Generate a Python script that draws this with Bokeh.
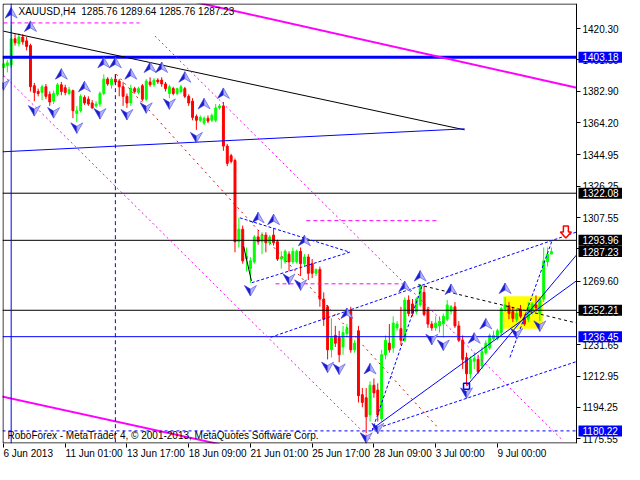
from bokeh.plotting import figure
from bokeh.models import (Range1d, FixedTicker, Label, Span, ColumnDataSource, PrintfTickFormatter,
                          LinearAxis, BoxAnnotation)
from bokeh.embed import file_html
from bokeh.resources import INLINE

# ---------------- data ----------------
open_ = [1397.0, 1398.2, 1398.7, 1414.2, 1411.3, 1415.3, 1413.0, 1410.2, 1386.2, 1382.8,
         1382.2, 1385.6, 1381.1, 1377.0, 1381.1, 1386.8, 1385.0, 1381.6, 1383.3, 1369.6,
         1371.3, 1379.3, 1378.2, 1375.9, 1374.2, 1375.3, 1381.6, 1390.2, 1386.8, 1390.2,
         1389.0, 1385.6, 1379.9, 1375.9, 1384.5, 1382.2, 1386.2, 1378.2, 1388.5, 1386.8,
         1389.6, 1389.6, 1387.3, 1381.6, 1384.5, 1381.6, 1382.8, 1384.5, 1379.9, 1377.0,
         1367.9, 1365.6, 1363.9, 1366.8, 1365.6, 1365.6, 1373.0, 1374.2, 1350.2, 1344.5,
         1341.6, 1293.1, 1300.6, 1282.8, 1277.1, 1281.1, 1296.0, 1293.1, 1297.1, 1292.5,
         1297.1, 1293.1, 1282.8, 1281.1, 1285.7, 1281.1, 1281.1, 1287.4, 1280.0, 1284.0,
         1280.0, 1274.3, 1276.6, 1258.9, 1254.3, 1228.6, 1237.2, 1236.0, 1230.3, 1238.3,
         1251.5, 1228.6, 1240.0, 1201.8, 1200.0, 1189.8, 1207.5, 1204.6, 1187.5, 1225.7,
         1232.6, 1229.7, 1241.7, 1241.2, 1234.3, 1258.3, 1256.0, 1251.4, 1255.4, 1262.9,
         1252.6, 1244.0, 1241.7, 1242.9, 1244.0, 1246.9, 1251.4, 1254.3, 1242.9, 1234.3,
         1224.0, 1214.3, 1221.8, 1222.9, 1218.9, 1226.9, 1229.7, 1235.4, 1235.4, 1238.9,
         1253.2, 1254.9, 1251.4, 1246.9, 1252.6, 1247.4, 1246.9, 1251.4, 1255.4, 1250.3,
         1258.9, 1281.1, 1285.76]
high = [1402.7, 1401.6, 1422.7, 1417.0, 1417.6, 1417.0, 1415.3, 1411.3, 1387.9, 1384.5,
        1386.8, 1387.3, 1382.8, 1383.3, 1387.9, 1388.5, 1386.8, 1385.6, 1383.9, 1374.2,
        1381.1, 1380.5, 1379.9, 1377.6, 1377.0, 1382.8, 1393.0, 1391.3, 1391.3, 1393.0,
        1390.2, 1388.5, 1381.6, 1386.8, 1385.6, 1385.6, 1387.3, 1390.2, 1391.3, 1390.7,
        1390.7, 1391.3, 1388.5, 1386.8, 1385.6, 1385.0, 1386.8, 1385.6, 1381.1, 1378.8,
        1369.1, 1368.5, 1367.9, 1368.5, 1369.6, 1375.3, 1375.3, 1376.5, 1351.4, 1345.6,
        1342.8, 1307.4, 1302.8, 1289.7, 1283.9, 1297.1, 1300.0, 1298.8, 1298.8, 1297.1,
        1301.1, 1294.3, 1287.4, 1288.5, 1287.4, 1289.7, 1288.5, 1289.7, 1285.7, 1285.7,
        1282.8, 1277.1, 1278.3, 1262.9, 1255.4, 1247.4, 1242.9, 1240.0, 1242.9, 1244.0,
        1254.3, 1234.3, 1242.9, 1205.8, 1205.8, 1209.8, 1211.5, 1208.6, 1228.6, 1237.2,
        1244.0, 1248.6, 1245.7, 1254.3, 1260.0, 1261.1, 1258.9, 1260.0, 1267.4, 1266.9,
        1254.3, 1245.7, 1248.6, 1248.6, 1250.3, 1258.3, 1255.4, 1257.1, 1245.7, 1237.2,
        1226.9, 1224.6, 1226.9, 1225.7, 1230.3, 1234.3, 1238.3, 1240.0, 1241.2, 1254.3,
        1260.0, 1257.1, 1254.3, 1253.2, 1255.4, 1249.7, 1257.1, 1257.1, 1261.1, 1260.0,
        1289.7, 1289.7, 1289.64]
low = [1391.3, 1394.2, 1397.0, 1410.2, 1409.6, 1410.7, 1407.3, 1382.8, 1377.0, 1379.9,
       1377.6, 1378.2, 1374.2, 1375.3, 1379.9, 1380.5, 1380.5, 1380.5, 1366.8, 1364.5,
       1370.2, 1374.8, 1374.2, 1372.5, 1373.0, 1373.6, 1380.5, 1386.2, 1384.5, 1386.8,
       1379.9, 1374.2, 1373.0, 1374.2, 1381.6, 1381.1, 1377.0, 1377.0, 1385.6, 1385.6,
       1387.3, 1385.6, 1382.8, 1378.8, 1380.5, 1380.5, 1381.6, 1378.8, 1374.2, 1365.6,
       1359.9, 1364.5, 1362.8, 1363.9, 1364.5, 1364.5, 1371.9, 1347.4, 1338.2, 1339.9,
       1286.8, 1289.7, 1280.0, 1275.4, 1268.6, 1280.0, 1291.4, 1285.7, 1286.8, 1290.8,
       1290.8, 1281.7, 1277.1, 1280.0, 1275.4, 1280.0, 1280.0, 1272.6, 1278.3, 1270.3,
       1271.4, 1272.6, 1254.3, 1242.9, 1222.9, 1224.0, 1230.3, 1221.2, 1225.7, 1236.0,
       1226.9, 1226.9, 1197.2, 1194.3, 1178.9, 1185.8, 1200.0, 1185.8, 1185.8, 1222.9,
       1226.9, 1226.9, 1240.0, 1231.4, 1233.2, 1248.6, 1248.6, 1249.7, 1254.3, 1248.6,
       1241.7, 1240.0, 1240.0, 1238.9, 1236.0, 1245.7, 1249.7, 1241.7, 1233.2, 1217.2,
       1207.5, 1211.5, 1217.2, 1214.3, 1217.2, 1225.7, 1228.6, 1234.3, 1234.3, 1237.2,
       1251.4, 1246.9, 1245.1, 1245.1, 1247.4, 1242.9, 1245.1, 1249.7, 1251.4, 1245.7,
       1257.1, 1278.3, 1285.76]
close = [1399.3, 1399.9, 1414.2, 1411.9, 1415.3, 1412.4, 1409.6, 1385.6, 1382.2, 1381.6,
         1385.6, 1379.9, 1376.5, 1381.6, 1386.8, 1382.8, 1382.2, 1383.9, 1371.3, 1371.3,
         1379.9, 1375.9, 1375.3, 1373.0, 1375.3, 1381.6, 1390.2, 1387.3, 1390.2, 1388.5,
         1385.6, 1379.9, 1375.9, 1384.5, 1382.8, 1384.5, 1378.2, 1389.0, 1386.8, 1389.6,
         1388.5, 1387.3, 1384.5, 1385.6, 1381.6, 1384.5, 1385.6, 1379.9, 1375.9, 1367.3,
         1365.6, 1367.3, 1366.8, 1365.1, 1368.5, 1373.0, 1374.2, 1350.2, 1339.9, 1341.1,
         1293.1, 1300.6, 1281.7, 1284.5, 1281.7, 1296.0, 1293.1, 1297.1, 1292.5, 1296.0,
         1292.5, 1282.8, 1284.0, 1287.4, 1281.1, 1287.4, 1287.4, 1280.0, 1284.0, 1274.3,
         1274.3, 1276.6, 1258.9, 1246.9, 1228.6, 1236.0, 1232.6, 1225.7, 1238.9, 1241.2,
         1228.6, 1232.6, 1201.2, 1197.2, 1188.6, 1207.5, 1202.9, 1189.8, 1225.7, 1234.3,
         1228.6, 1244.6, 1244.0, 1234.3, 1258.3, 1250.3, 1250.3, 1258.9, 1266.9, 1249.7,
         1244.0, 1241.7, 1244.6, 1245.7, 1248.6, 1255.4, 1254.3, 1242.9, 1234.3, 1222.9,
         1214.3, 1222.9, 1223.4, 1215.5, 1227.5, 1232.6, 1237.2, 1237.2, 1240.0, 1253.2,
         1255.4, 1250.3, 1247.4, 1250.3, 1248.6, 1244.0, 1254.3, 1256.0, 1253.7, 1258.9,
         1281.7, 1285.7, 1287.23]

x_ticks = [0, 16, 32, 48, 64, 80, 96, 112, 128]
x_tick_labels = ["6 Jun 2013", "11 Jun 01:00", "13 Jun 17:00", "18 Jun 09:00", "21 Jun 01:00",
                 "25 Jun 17:00", "28 Jun 09:00", "3 Jul 00:00", "9 Jul 00:00"]
y_ticks = [1420.30, 1401.60, 1382.90, 1364.20, 1344.95, 1326.25, 1307.55, 1288.85,
           1269.60, 1250.90, 1231.65, 1212.95, 1194.25, 1175.55]

level_thick_blue = 1403.18
levels_black = [1322.08, 1293.96, 1252.21]
level_blue = 1236.45
level_blue_dashed = 1180.22
price_tags = [1403.18, 1322.08, 1293.96, 1287.23, 1252.21, 1236.45, 1180.22]
price_tag_colors = ["#0000ff", "black", "black", "black", "black", "#0000ff", "#0000ff"]

# trend objects: (bar index list, price list)
magenta_top = ([48, 150], [1437.0, 1384.3])
magenta_bottom = ([-1, 56], [1201.1, 1172.3])
black_trend = ([0, 119.5], [1418.8, 1359.9])
blue_trend = ([-0.25, 119.5], [1346.8, 1360.5])
magenta_dot_a = ([0, 95.5], [1392.5, 1174.4])
magenta_dot_b = ([39.25, 145], [1415.9, 1174.4])
red_dot = ([29.25, 112.25], [1393.1, 1183.0])
magenta_dash_1 = ([0, 35.25], [1423.7, 1423.7])
magenta_dash_2 = ([78.5, 112.25], [1305.7, 1305.7])
magenta_dash_3 = ([70.5, 103.5], [1268.0, 1268.0])
triangle = ([61.25, 89.75, 64.25], [1307.4, 1286.9, 1268.6])
zigzag_black = ([62.25, 64.25], [1290.3, 1269.8])
blue_dash_long1 = ([69.25, 148.5], [1236.1, 1298.9])
blue_dash_long2 = ([95.9, 148.5], [1181.1, 1221.6])
blue_solid_1 = ([95.5, 148.5], [1181.3, 1269.8])
blue_solid_2 = ([120, 148.5], [1206.9, 1285.2])
blue_dash_d1 = ([95.5, 108.5], [1180.1, 1266.9])
blue_dash_d2 = ([131.25, 142.25], [1224.1, 1294.3])
black_dash = ([107.5, 148.5], [1267.5, 1244.6])
vline_blue = 2
vline_dash = ([29, 29], [1393.1, 1170.0])
square_mark = ([120], [1206.9])
yellow_box = (129.5, 139.75, 1260.6, 1241.2)
sell_arrow = (145.75, 1298.9)

up_idx = [2, 7, 15, 21, 26, 29, 33, 38, 41, 47, 52, 57, 66, 70, 78, 89, 95, 104, 108, 116, 122, 125, 130]
up_price = [1429.6, 1421.6, 1393.1, 1385.6, 1399.9, 1399.9, 1393.1, 1397.1, 1397.1, 1391.3, 1375.4,
            1381.6, 1307.4, 1306.3, 1293.7, 1250.3, 1217.2, 1266.3, 1272.6, 1264.6, 1235.5, 1244.0, 1265.2]
dn_idx = [0, 8, 13, 19, 25, 32, 37, 43, 50, 64, 74, 77, 84, 87, 94, 97, 111, 114, 120, 133, 139]
dn_price = [1386.8, 1371.4, 1370.2, 1361.1, 1369.6, 1369.1, 1373.1, 1375.4, 1355.4, 1264.0, 1270.9,
            1267.4, 1218.3, 1217.2, 1176.1, 1181.8, 1234.9, 1231.5, 1202.9, 1238.3, 1242.9]

title_text = "XAUUSD,H4\u00a0\u00a01285.76 1289.64 1285.76 1287.23"
footer_text = "RoboForex - MetaTrader 4, \u00a9 2001-2013, MetaQuotes Software Corp."

# ---------------- figure ----------------
X0, X1 = -0.25, 148.5          # chart area (bars)
Y0, Y1 = 1172.7, 1435.3
FW, FH, AW = 574, 440, 46       # chart width, height, price-scale strip width (px)
sx = FW / (X1 - X0)
sy = FH / (Y1 - Y0)
X1e = X1 + AW / sx              # frame also holds the price-scale strip
FONT = "Liberation Sans"
FSIZE = 10
EM = {"J": 0.5, "l": 0.222, " ": 0.278, ":": 0.278}
def text_px(s):
    return sum(EM.get(ch, 0.556) for ch in s) * FSIZE

p = figure(frame_width=FW + AW, frame_height=FH, x_range=Range1d(X0, X1e), y_range=Range1d(Y0, Y1),
           output_backend="svg", toolbar_location=None, y_axis_location=None,
           min_border_left=2, min_border_top=3, min_border_right=0, min_border_bottom=0)
p.grid.visible = False
p.outline_line_color = None
p.background_fill_color = "white"

# x axes: one with tick marks, one with the left-aligned date labels
p.xaxis.ticker = FixedTicker(ticks=x_ticks)
p.xaxis.minor_tick_line_color = None
p.xaxis.major_tick_out = 4
p.xaxis.major_tick_in = 0
p.xaxis.major_tick_line_color = "black"
p.xaxis.axis_line_color = None
p.xaxis.major_label_text_font_size = "1px"
p.xaxis.major_label_text_color = None
p.xaxis.major_label_standoff = 0

label_pos = [t + text_px(s) / 2 / sx for t, s in zip(x_ticks, x_tick_labels)]
date_axis = LinearAxis(ticker=FixedTicker(ticks=label_pos),
                       major_label_overrides={v: s for v, s in zip(label_pos, x_tick_labels)},
                       major_tick_out=0, major_tick_in=0, minor_tick_line_color=None,
                       major_tick_line_color=None, axis_line_color=None, major_label_standoff=0,
                       major_label_text_font=FONT, major_label_text_font_size=f"{FSIZE}px",
                       major_label_text_color="black")
p.add_layout(date_axis, "below")

# yellow rectangle (background)
l, r, t, b = yellow_box
p.quad(left=[l], right=[r], top=[t], bottom=[b], fill_color="#ffff00", line_color=None)

# candles
idx = list(range(len(close)))
colors = ["#00ff00" if c >= o else "#ff0000" for o, c in zip(open_, close)]
src = ColumnDataSource(dict(x=idx, o=open_, h=high, l=low, c=close,
                            top=[max(o, c) for o, c in zip(open_, close)],
                            bot=[min(o, c) for o, c in zip(open_, close)], col=colors))
p.segment(x0="x", y0="l", x1="x", y1="h", color="col", line_width=1, source=src)
p.vbar(x="x", top="top", bottom="bot", width=0.5, fill_color="col", line_color="col", line_width=1, source=src)

# horizontal levels (stop at the price scale)
def hline(yv, color, width=1, dash="solid"):
    p.segment(x0=[X0], y0=[yv], x1=[X1], y1=[yv], line_color=color, line_width=width, line_dash=dash)

hline(level_thick_blue, "#0000ff", 3)
for lv in levels_black:
    hline(lv, "black")
hline(level_blue, "#0000ff")
hline(level_blue_dashed, "#0000ff", 1, "3 3")
p.add_layout(Span(location=vline_blue, dimension="height", line_color="#0000ff", line_width=1))

def ln(obj, color, width=1, dash="solid"):
    p.line(obj[0], obj[1], line_color=color, line_width=width, line_dash=dash)

ln(magenta_top, "#ff00ff", 2)
ln(magenta_bottom, "#ff00ff", 2)
ln(black_trend, "black", 1)
ln(blue_trend, "#0000ff", 1)
ln(magenta_dot_a, "#ff00ff", 1, "2 3")
ln(magenta_dot_b, "#ff00ff", 1, "2 3")
ln(red_dot, "#e00000", 1, "2 4")
ln(magenta_dash_1, "#ff00ff", 1, "4 3")
ln(magenta_dash_2, "#ff00ff", 1, "4 3")
ln(magenta_dash_3, "#ff00ff", 1, "4 3")
ln(triangle, "#0000ff", 1, "3 2")
ln(zigzag_black, "black", 1)
ln(blue_dash_long1, "#0000ff", 1, "3 2")
ln(blue_dash_long2, "#0000ff", 1, "3 2")
ln(blue_solid_1, "#0000ff", 1)
ln(blue_solid_2, "#0000ff", 1)
ln(blue_dash_d1, "#0000ff", 1, "3 2")
ln(blue_dash_d2, "#0000ff", 1, "3 2")
ln(black_dash, "black", 1, "3 3")
ln(vline_dash, "#0000ff", 1, "4 3")

p.scatter(square_mark[0], square_mark[1], marker="square", size=6, fill_color=None,
          line_color="#0000ff", line_width=1.5)

# fractal arrows (shape in pixels, converted to data units)
def shape(cx, cy, pts, flip=1):
    return ([cx + dx / sx for dx, dy in pts], [cy + flip * dy / sy for dx, dy in pts])

left_half = [(0, 5.5), (-6, -5), (0, -1.5)]
right_half = [(0, 5.5), (6, -5), (0, -1.5)]
dark_xs, dark_ys, light_xs, light_ys = [], [], [], []
for cx, cy in zip(up_idx, up_price):
    a = shape(cx, cy, left_half); dark_xs.append(a[0]); dark_ys.append(a[1])
    a = shape(cx, cy, right_half); light_xs.append(a[0]); light_ys.append(a[1])
for cx, cy in zip(dn_idx, dn_price):
    a = shape(cx, cy, left_half, -1); dark_xs.append(a[0]); dark_ys.append(a[1])
    a = shape(cx, cy, right_half, -1); light_xs.append(a[0]); light_ys.append(a[1])
p.patches(dark_xs, dark_ys, fill_color="#1c1cd0", line_color="#2a2ad8", line_width=0.6)
p.patches(light_xs, light_ys, fill_color="#b4b4ff", line_color="#4a4ae0", line_width=0.6)

# sell arrow
arrow_pts = [(-2.5, 6), (2.5, 6), (2.5, 0), (5.5, 0), (0, -6), (-5.5, 0), (-2.5, 0)]
ax_, ay_ = shape(sell_arrow[0], sell_arrow[1], arrow_pts)
p.patch(ax_, ay_, fill_color="white", line_color="#ff0000", line_width=1.5)

# white price-scale strip (hides anything running past the chart) and chart border
p.quad(left=[X1], right=[X1e + 1], top=[Y1 + 5], bottom=[Y0 - 5], fill_color="white", line_color=None)
ex, ey = 0.5 / sx, 0.5 / sy
p.line([X1, X0 + ex, X0 + ex, X1], [Y1 - ey, Y1 - ey, Y0 + ey, Y0 + ey], line_color="black", line_width=1)

# price axis placed on the chart's right edge
yax = LinearAxis(fixed_location=X1, ticker=FixedTicker(ticks=y_ticks),
                 formatter=PrintfTickFormatter(format="%.2f"),
                 minor_tick_line_color=None, major_tick_out=4, major_tick_in=0,
                 major_tick_line_color="black", axis_line_color="black", major_label_standoff=2,
                 major_label_text_font=FONT, major_label_text_font_size=f"{FSIZE}px",
                 major_label_text_color="black")
p.add_layout(yax, "right")

# texts
p.add_layout(Label(x=X0 + 16 / sx, y=Y1 - 8 / sy, text=title_text, text_font=FONT,
                   text_font_size=f"{FSIZE}px", text_color="black", text_baseline="middle"))
p.add_layout(Label(x=X0 + 5 / sx, y=Y0 + 8 / sy, text=footer_text, text_font=FONT,
                   text_font_size=f"{FSIZE}px", text_color="black", text_baseline="middle"))

# price tags: coloured box on the price scale with the value in white
half_h = 5.5 / sy
for v, col in zip(price_tags, price_tag_colors):
    p.add_layout(BoxAnnotation(left=X1 + 2 / sx, right=X1e + 1, top=v + half_h, bottom=v - half_h,
                               fill_color=col, fill_alpha=1.0, line_color=None, line_width=0))
    p.add_layout(Label(x=X1 + 6 / sx, y=v, text=f"{v:.2f}", text_font=FONT, text_font_size=f"{FSIZE}px",
                       text_color="white", text_baseline="middle", text_align="left"))

open("out.html", "w").write(file_html(p, INLINE))
